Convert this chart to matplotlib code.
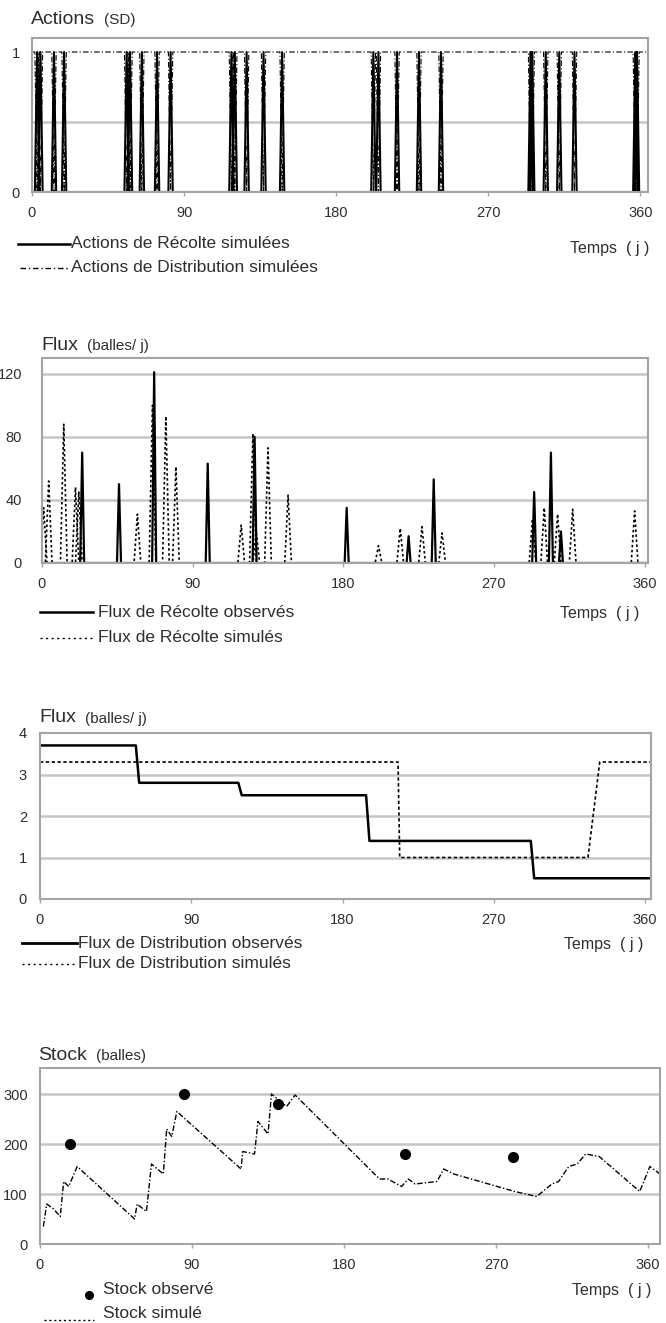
import numpy as np
import matplotlib.pyplot as plt
from matplotlib.lines import Line2D

plt.rcParams['font.family'] = ['Liberation Sans', 'DejaVu Sans']

# --- data ---
# panel 1: harvest action days (1 = action), distribution is off on those days
harvest_action_days = [3, 5, 13, 19, 56, 58, 65, 74, 82, 118, 120, 127, 137, 148,
                       202, 205, 216, 229, 242, 295, 296, 304, 312, 321, 357, 358]

# panel 2: harvest flux (balles/j)
obs_harvest_days = [24, 46, 67, 99, 127, 182, 219, 234, 294, 304, 310]
obs_harvest_vals = [70, 50, 121, 63, 80, 35, 17, 53, 45, 70, 20]
sim_harvest_days = [1, 4, 13, 20, 22, 57, 66, 74, 80, 119, 126, 128, 135, 147,
                    201, 214, 227, 239, 293, 300, 308, 317, 354]
sim_harvest_vals = [35, 52, 88, 48, 45, 31, 100, 93, 61, 24, 82, 20, 73, 43,
                    11, 22, 23, 19, 28, 35, 31, 34, 33]

# panel 3: distribution flux (step curves)
obs_dist_t = [0, 57, 59, 118, 120, 194, 196, 292, 294, 365]
obs_dist_v = [3.7, 3.7, 2.8, 2.8, 2.5, 2.5, 1.4, 1.4, 0.5, 0.5]
sim_dist_t = [0, 213, 214, 326, 333, 365]
sim_dist_v = [3.3, 3.3, 1.0, 1.0, 3.3, 3.3]

# panel 4: stock (balles)
stock_obs_t = [18, 85, 141, 216, 280]
stock_obs_v = [200, 300, 280, 180, 175]
stock_sim_t = [2, 4, 8, 12, 14, 17, 22, 56, 57.5, 63, 66, 73, 75, 78, 81, 119, 120,
               127, 129, 135, 137, 146, 151, 201, 206, 214, 218, 222, 235, 239, 245,
               281, 294, 303, 307, 313, 318, 323, 331, 355, 361, 367]
stock_sim_v = [35, 80, 70, 55, 125, 115, 155, 50, 80, 65, 160, 140, 230, 215, 265, 150, 185,
               180, 245, 220, 300, 275, 298, 130, 130, 115, 130, 120, 125, 150, 140,
               105, 95, 120, 125, 155, 160, 180, 175, 105, 155, 140]


def spikes(d, v, w, end=366):
    # triangular pulse of half-width w at each day, on a zero baseline
    d = np.asarray(d, float)
    v = np.asarray(v, float)
    x = np.column_stack([d - w, d, d + w]).ravel()
    y = np.column_stack([np.zeros_like(v), v, np.zeros_like(v)]).ravel()
    return np.r_[0, x, end], np.r_[0, y, 0]


# --- figure in pixel layout ---
W, H = 666, 1323
fig = plt.figure(figsize=(W / 100, H / 100), dpi=100)

grid_c = '#c6c6c6'
spine_c = '#a4a4a4'
txt_c = '#2e2e2e'
PT = 72 / 100  # points per pixel


def add_ax(left, top, right, bottom):
    return fig.add_axes([left / W, 1 - bottom / H, (right - left) / W, (bottom - top) / H])


def style(ax, xmax, ymax, yticks, grid, ypad_px):
    ax.set_xlim(0, xmax)
    ax.set_ylim(0, ymax)
    ax.set_xticks([0, 90, 180, 270, 360])
    ax.set_yticks(yticks)
    for g in grid:
        ax.axhline(g, color=grid_c, lw=1.8, zorder=0)
    for s in ax.spines.values():
        s.set_color(spine_c)
        s.set_linewidth(1.5)
    ax.tick_params(axis='x', colors=spine_c, labelcolor=txt_c, labelsize=10.5,
                   length=3, width=1, pad=7)
    ax.tick_params(axis='y', length=0, labelcolor=txt_c, labelsize=10.5,
                   pad=ypad_px * PT)


def ftext(x, y, s, size=12.5, **kw):
    fig.text(x / W, 1 - y / H, s, fontsize=size, color=txt_c, va='center', **kw)


def fline(x0, x1, y, **kw):
    fig.add_artist(Line2D([x0 / W, x1 / W], [1 - y / H] * 2,
                          transform=fig.transFigure, color='black', **kw))


def title(x, y, big, small):
    t = fig.text(x / W, 1 - y / H, big, fontsize=14, color=txt_c, va='center')
    fig.canvas.draw()
    bb = t.get_window_extent()
    fig.text((bb.x1 + 9) / W, 1 - (y + 1) / H, small, fontsize=11, color=txt_c, va='center')


# panel 1: actions
ax1 = add_ax(32, 38, 648, 192)
hx, hy = spikes(harvest_action_days, np.ones(len(harvest_action_days)), 1.3)
ax1.plot(hx, hy, color='black', lw=1.5)
ax1.plot(hx, 1 - hy, color='black', lw=0.8, ls=(0, (5, 2, 1, 2)))
style(ax1, 364.5, 1.1, [0, 1], [0.5], 12)
title(31, 19, 'Actions', '(SD)')
fline(18, 70, 244, lw=1.8)
ftext(71, 243, 'Actions de Récolte simulées')
fline(20, 70, 268, lw=1.0, ls=(0, (4, 2, 1, 2)))
ftext(71, 267, 'Actions de Distribution simulées')
ftext(649, 248, 'Temps  ( j )', size=11.5, ha='right')

# panel 2: harvest flux
ax2 = add_ax(42, 358, 648, 563)
ox, oy = spikes(obs_harvest_days, obs_harvest_vals, 1.2)
sx, sy = spikes(sim_harvest_days, sim_harvest_vals, 2.0)
ax2.plot(sx, sy, color='black', lw=1.2, ls=(0, (1.5, 1.5)))
ax2.plot(ox, oy, color='black', lw=1.6)
style(ax2, 362, 130, [0, 40, 80, 120], [40, 80, 120], 20)
title(41, 345, 'Flux', '(balles/ j)')
fline(40, 93, 612, lw=1.8)
ftext(98, 612, 'Flux de Récolte observés')
fline(40, 93, 638, lw=1.0, ls=(0, (1.5, 2.5)))
ftext(98, 638, 'Flux de Récolte simulés')
ftext(639, 613, 'Temps  ( j )', size=11.5, ha='right')

# panel 3: distribution flux
ax3 = add_ax(40, 733, 651, 899)
ax3.plot(obs_dist_t, obs_dist_v, color='black', lw=1.8)
ax3.plot(sim_dist_t, sim_dist_v, color='black', lw=1.2, ls=(0, (2, 1.5)))
style(ax3, 363.5, 4, [0, 1, 2, 3, 4], [1, 2, 3], 13)
title(39, 718, 'Flux', '(balles/ j)')
fline(22, 77, 943, lw=2.0)
ftext(78, 943, 'Flux de Distribution observés')
fline(22, 77, 964, lw=1.0, ls=(0, (1.5, 2.5)))
ftext(78, 964, 'Flux de Distribution simulés')
ftext(643, 944, 'Temps  ( j )', size=11.5, ha='right')

# panel 4: stock
ax4 = add_ax(40, 1068, 660, 1244)
ax4.plot(stock_sim_t, stock_sim_v, color='black', lw=1.0, ls=(0, (4, 1.5, 1, 1.5)))
ax4.plot(stock_obs_t, stock_obs_v, 'o', color='black', ms=7, zorder=5)
style(ax4, 367, 352, [0, 100, 200, 300], [100, 200, 300], 12)
title(38, 1055, 'Stock', '(balles)')
fig.add_artist(Line2D([89 / W], [1 - 1295 / H], transform=fig.transFigure,
                      marker='o', color='black', ms=5.5))
ftext(103, 1290, 'Stock observé')
fline(44, 94, 1320, lw=1.0, ls=(0, (1.5, 2)))
ftext(103, 1313, 'Stock simulé')
ftext(651, 1291, 'Temps  ( j )', size=11.5, ha='right')

fig.savefig('out.png', dpi=100)
